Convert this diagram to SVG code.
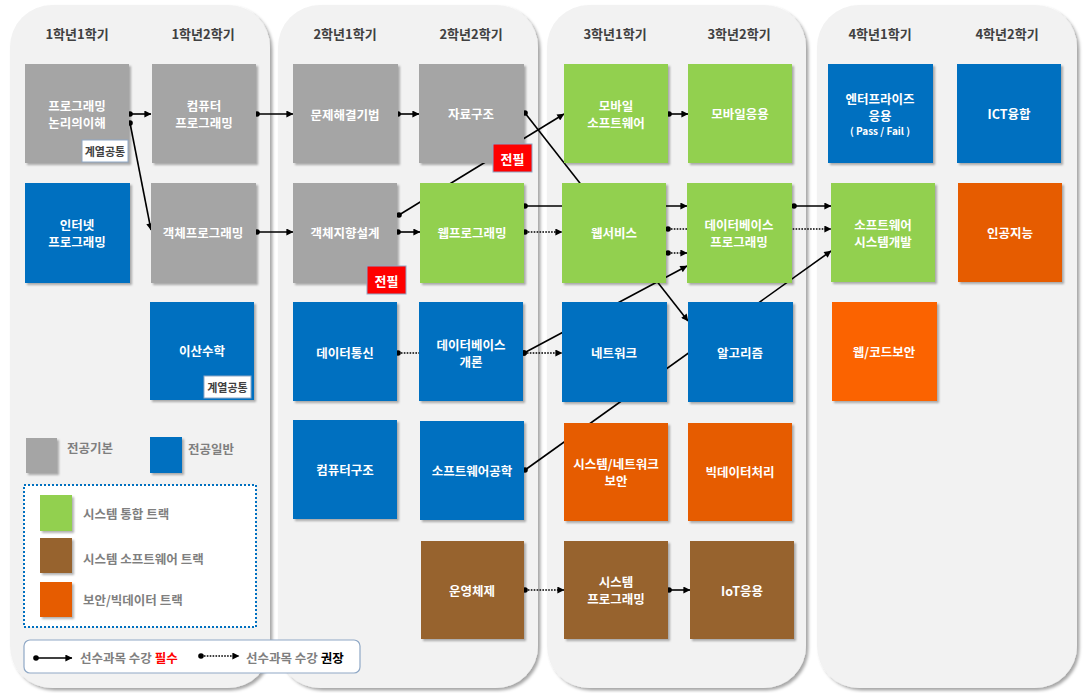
<svg xmlns="http://www.w3.org/2000/svg" width="1090" height="693" viewBox="0 0 1090 693">
<style>
.hd{font:700 13px "Noto Sans CJK KR","Noto Sans",sans-serif;fill:#404040;text-anchor:middle;dominant-baseline:central}
.nt{font:700 12.5px "Noto Sans CJK KR","Noto Sans",sans-serif;fill:#ffffff;text-anchor:middle;dominant-baseline:central}
.sm{font:700 10px "Noto Sans CJK KR","Noto Sans",sans-serif;fill:#ffffff;text-anchor:middle;dominant-baseline:central}
.lg{font:700 12.5px "Noto Sans CJK KR","Noto Sans",sans-serif;fill:#7f7f7f;dominant-baseline:central}
.bd{font:700 11px "Noto Sans CJK KR","Noto Sans",sans-serif;fill:#404040;text-anchor:middle;dominant-baseline:central}
.jp{font:700 13px "Noto Sans CJK KR","Noto Sans",sans-serif;fill:#ffffff;text-anchor:middle;dominant-baseline:central}
.panel{fill:#f2f2f2;filter:url(#psh)}
.box{filter:url(#nsh)}
.gray{fill:#a5a5a5}.blue{fill:#0070c0}.green{fill:#92d050}.brown{fill:#97642f}.orange{fill:#e65c00}.orange2{fill:#fb6400}
.badge{fill:#ffffff;stroke:#8fa8c6;stroke-width:1}
.red{fill:#ff0000;stroke:#8fa8c6;stroke-width:1}
.c{stroke:#000;stroke-width:1.6;fill:none}
.d{stroke:#000;stroke-width:1.7;fill:none;stroke-dasharray:1.6 1.3}
</style>
<defs>
<filter id="psh" x="-5%" y="-5%" width="115%" height="115%"><feDropShadow dx="2.5" dy="2.5" stdDeviation="1.5" flood-color="#000" flood-opacity="0.35"/></filter>
<filter id="nsh" x="-10%" y="-10%" width="125%" height="125%"><feDropShadow dx="2" dy="2" stdDeviation="1.2" flood-color="#000" flood-opacity="0.3"/></filter>
<marker id="dot" viewBox="0 0 6 6" refX="3" refY="3" markerWidth="6" markerHeight="6" markerUnits="userSpaceOnUse"><circle cx="3" cy="3" r="2.8" fill="#000"/></marker>
<marker id="arr" viewBox="0 0 10 10" refX="9.5" refY="5" markerWidth="8" markerHeight="7" markerUnits="userSpaceOnUse" orient="auto"><path d="M0,0 L10,5 L0,10 z" fill="#000"/></marker>
</defs>
<rect width="1090" height="693" fill="#ffffff"/>
<g id="panels">
<rect class="panel" x="10" y="5" width="260" height="683" rx="42"/>
<rect class="panel" x="278" y="5" width="260" height="683" rx="42"/>
<rect class="panel" x="547" y="5" width="259" height="683" rx="42"/>
<rect class="panel" x="817" y="5" width="260" height="683" rx="42"/>
</g>
<g id="headers">
<text class="hd" x="77" y="33">1학년1학기</text>
<text class="hd" x="203" y="33">1학년2학기</text>
<text class="hd" x="345" y="33">2학년1학기</text>
<text class="hd" x="471" y="33">2학년2학기</text>
<text class="hd" x="615" y="33">3학년1학기</text>
<text class="hd" x="739" y="33">3학년2학기</text>
<text class="hd" x="880" y="33">4학년1학기</text>
<text class="hd" x="1007" y="33">4학년2학기</text>
</g>
<g id="connectors">
<line class="c" x1="130" y1="114" x2="151" y2="114" marker-start="url(#dot)" marker-end="url(#arr)"/>
<line class="c" x1="130" y1="123" x2="151" y2="230" marker-start="url(#dot)" marker-end="url(#arr)"/>
<line class="c" x1="257" y1="114" x2="293" y2="114" marker-start="url(#dot)" marker-end="url(#arr)"/>
<line class="c" x1="257" y1="232" x2="293" y2="232" marker-start="url(#dot)" marker-end="url(#arr)"/>
<line class="c" x1="398" y1="114" x2="419" y2="114" marker-start="url(#dot)" marker-end="url(#arr)"/>
<line class="c" x1="398" y1="232" x2="420" y2="232" marker-start="url(#dot)" marker-end="url(#arr)"/>
<line class="c" x1="399" y1="215" x2="564" y2="114" marker-start="url(#dot)" marker-end="url(#arr)"/>
<line class="c" x1="525" y1="113" x2="688" y2="321" marker-start="url(#dot)" marker-end="url(#arr)"/>
<line class="c" x1="525" y1="206" x2="687" y2="206" marker-start="url(#dot)" marker-end="url(#arr)"/>
<line class="d" x1="525" y1="232" x2="562" y2="232" marker-start="url(#dot)" marker-end="url(#arr)"/>
<line class="d" x1="668" y1="229" x2="831" y2="229" marker-start="url(#dot)" marker-end="url(#arr)"/>
<line class="d" x1="668" y1="253" x2="687" y2="253" marker-start="url(#dot)" marker-end="url(#arr)"/>
<line class="c" x1="794" y1="206" x2="831" y2="206" marker-start="url(#dot)" marker-end="url(#arr)"/>
<line class="c" x1="524" y1="353" x2="687" y2="266" marker-start="url(#dot)" marker-end="url(#arr)"/>
<line class="d" x1="524" y1="353" x2="562" y2="353" marker-start="url(#dot)" marker-end="url(#arr)"/>
<line class="d" x1="398" y1="353" x2="419" y2="353" marker-start="url(#dot)"/>
<line class="c" x1="525" y1="470" x2="831" y2="251" marker-start="url(#dot)" marker-end="url(#arr)"/>
<line class="c" x1="669" y1="114" x2="688" y2="114" marker-start="url(#dot)" marker-end="url(#arr)"/>
<line class="d" x1="525" y1="590" x2="564" y2="590" marker-start="url(#dot)" marker-end="url(#arr)"/>
<line class="c" x1="669" y1="590" x2="690" y2="590" marker-start="url(#dot)" marker-end="url(#arr)"/>
</g>
<g id="n1"><rect class="box gray" x="25" y="64" width="104" height="99"/><text class="nt" x="77" y="105">프로그래밍</text><text class="nt" x="77" y="122">논리의이해</text><rect class="badge" x="82" y="140" width="46" height="22"/><text class="bd" x="105" y="151">계열공통</text></g>
<g id="n2"><rect class="box gray" x="152" y="64" width="104" height="99"/><text class="nt" x="204" y="105">컴퓨터</text><text class="nt" x="204" y="122">프로그래밍</text></g>
<g id="n3"><rect class="box blue" x="25" y="183" width="105" height="100"/><text class="nt" x="77" y="224">인터넷</text><text class="nt" x="77" y="241">프로그래밍</text></g>
<g id="n4"><rect class="box gray" x="151" y="183" width="105" height="100"/><text class="nt" x="203" y="232">객체프로그래밍</text></g>
<g id="n5"><rect class="box blue" x="150" y="302" width="104" height="98"/><text class="nt" x="202" y="350">이산수학</text><rect class="badge" x="204" y="376" width="47" height="22"/><text class="bd" x="227.5" y="387">계열공통</text></g>
<g id="n6"><rect class="box gray" x="293" y="64" width="105" height="99"/><text class="nt" x="345" y="114">문제해결기법</text></g>
<g id="n7"><rect class="box gray" x="293" y="183" width="104" height="100"/><text class="nt" x="345" y="232">객체지향설계</text><rect class="red" x="367" y="266" width="39" height="28"/><text class="jp" x="386.5" y="280">전필</text></g>
<g id="n8"><rect class="box blue" x="293" y="302" width="104" height="99"/><text class="nt" x="345" y="352">데이터통신</text></g>
<g id="n9"><rect class="box blue" x="293" y="420" width="104" height="99"/><text class="nt" x="345" y="469">컴퓨터구조</text></g>
<g id="n10"><rect class="box gray" x="419" y="64" width="105" height="99"/><text class="nt" x="471" y="113">자료구조</text><rect class="red" x="493" y="144" width="39" height="28"/><text class="jp" x="512.5" y="158">전필</text></g>
<g id="n11"><rect class="box green" x="420" y="183" width="104" height="100"/><text class="nt" x="472" y="232">웹프로그래밍</text></g>
<g id="n12"><rect class="box blue" x="419" y="302" width="104" height="99"/><text class="nt" x="471" y="344">데이터베이스</text><text class="nt" x="471" y="361">개론</text></g>
<g id="n13"><rect class="box blue" x="420" y="421" width="104" height="99"/><text class="nt" x="472" y="470">소프트웨어공학</text></g>
<g id="n14"><rect class="box brown" x="421" y="541" width="103" height="98"/><text class="nt" x="472" y="590">운영체제</text></g>
<g id="n15"><rect class="box green" x="564" y="64" width="104" height="99"/><text class="nt" x="616" y="105">모바일</text><text class="nt" x="616" y="122">소프트웨어</text></g>
<g id="n16"><rect class="box green" x="562" y="183" width="104" height="100"/><text class="nt" x="614" y="232">웹서비스</text></g>
<g id="n17"><rect class="box blue" x="562" y="302" width="105" height="100"/><text class="nt" x="614" y="352">네트워크</text></g>
<g id="n18"><rect class="box orange" x="564" y="423" width="104" height="98"/><text class="nt" x="616" y="463">시스템/네트워크</text><text class="nt" x="616" y="480">보안</text></g>
<g id="n19"><rect class="box brown" x="564" y="541" width="104" height="98"/><text class="nt" x="616" y="581">시스템</text><text class="nt" x="616" y="598">프로그래밍</text></g>
<g id="n20"><rect class="box green" x="688" y="64" width="104" height="99"/><text class="nt" x="740" y="113">모바일응용</text></g>
<g id="n21"><rect class="box green" x="687" y="183" width="105" height="100"/><text class="nt" x="739" y="224">데이터베이스</text><text class="nt" x="739" y="241">프로그래밍</text></g>
<g id="n22"><rect class="box blue" x="688" y="302" width="105" height="100"/><text class="nt" x="740" y="352">알고리즘</text></g>
<g id="n23"><rect class="box orange" x="688" y="423" width="104" height="98"/><text class="nt" x="740" y="471">빅데이터처리</text></g>
<g id="n24"><rect class="box brown" x="690" y="541" width="104" height="98"/><text class="nt" x="742" y="590">IoT응용</text></g>
<g id="n25"><rect class="box blue" x="828" y="64" width="105" height="99"/><text class="nt" x="880" y="98">엔터프라이즈</text><text class="nt" x="880" y="115">응용</text><text class="sm" x="880" y="130">( Pass / Fail )</text></g>
<g id="n26"><rect class="box green" x="831" y="183" width="104" height="99"/><text class="nt" x="883" y="224">소프트웨어</text><text class="nt" x="883" y="241">시스템개발</text></g>
<g id="n27"><rect class="box orange2" x="832" y="302" width="105" height="99"/><text class="nt" x="884" y="351">웹/코드보안</text></g>
<g id="n28"><rect class="box blue" x="957" y="64" width="104" height="99"/><text class="nt" x="1009" y="113">ICT융합</text></g>
<g id="n29"><rect class="box orange" x="958" y="183" width="104" height="99"/><text class="nt" x="1010" y="232">인공지능</text></g>
<g id="legend">
<rect class="box gray" x="26" y="438" width="31" height="35"/><text class="lg" x="67" y="447">전공기본</text>
<rect class="box blue" x="150" y="437" width="32" height="36"/><text class="lg" x="188" y="448">전공일반</text>
<rect x="24" y="485" width="232" height="142" fill="#ffffff" stroke="#0070c0" stroke-width="2" stroke-dasharray="2 2"/>
<rect class="box green" x="40" y="495" width="32" height="36"/><text class="lg" x="83" y="513">시스템 통합 트랙</text>
<rect class="box brown" x="40" y="538" width="32" height="35"/><text class="lg" x="83" y="558">시스템 소프트웨어 트랙</text>
<rect class="box orange" x="40" y="582" width="32" height="35"/><text class="lg" x="83" y="599">보안/빅데이터 트랙</text>
<rect x="24" y="640" width="336" height="33" rx="6" fill="#ffffff" stroke="#8fa8c6" stroke-width="1.2"/>
<line class="c" x1="36" y1="658" x2="72" y2="658" marker-start="url(#dot)" marker-end="url(#arr)"/>
<text class="lg" x="80" y="657">선수과목 수강 <tspan fill="#ff0000">필수</tspan></text>
<line class="d" x1="201" y1="656" x2="239" y2="656" marker-start="url(#dot)" marker-end="url(#arr)"/>
<text class="lg" x="246" y="657">선수과목 수강 <tspan fill="#000000">권장</tspan></text>
</g>
</svg>
